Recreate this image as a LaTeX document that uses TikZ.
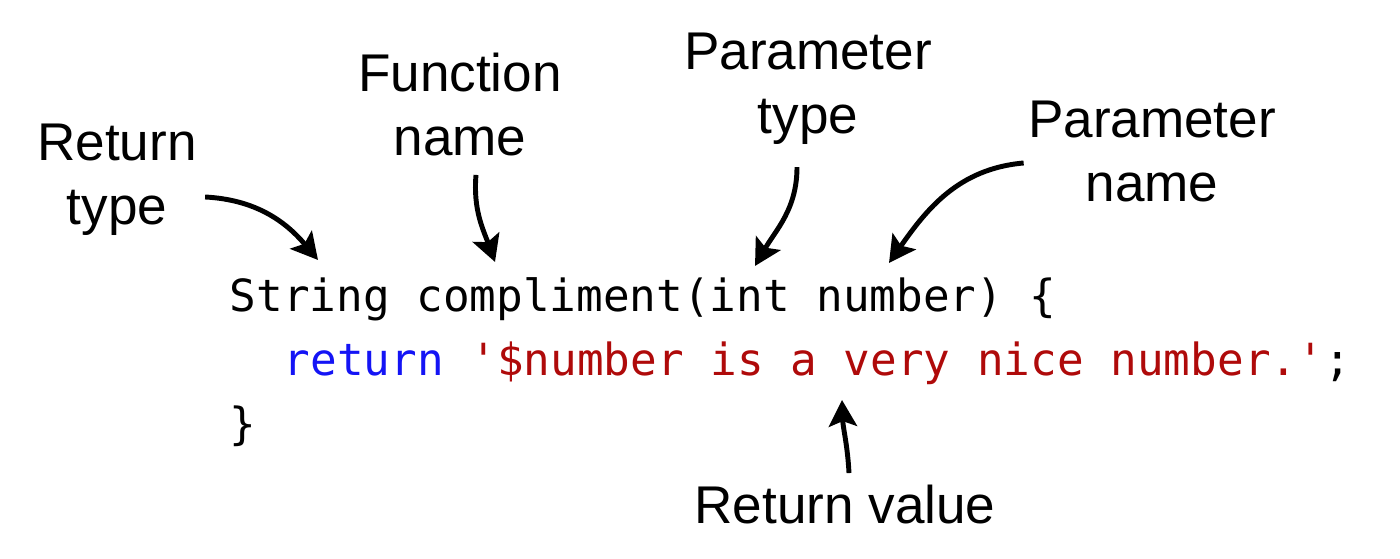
\documentclass[tikz,border=0pt]{standalone}
\usepackage{fontspec}
\setmainfont{Liberation Sans}
\newfontfamily\codefont{DejaVu Sans Mono}
\usetikzlibrary{arrows.meta}
\definecolor{kwblue}{RGB}{20,20,245}
\definecolor{strred}{RGB}{175,10,10}
\tikzset{
  note/.style={align=center, font=\fontsize{15.1}{18.2}\selectfont},
  code/.style={anchor=base west, inner sep=0pt, font=\codefont\fontsize{12.6}{18}\selectfont},
  arr/.style={line width=1.4pt, -{Stealth[length=7.5pt,width=8pt,inset=1.5pt]}}
}
\begin{document}
\begin{tikzpicture}[x=0.01cm,y=-0.01cm]
    \useasboundingbox (0,0) rectangle (1400,559);

    \node[note] (rettype) at (117,180) {Return\\type};
    \node[note] (funcname) at (460,105) {Function\\name};
    \node[note] (partype) at (808,89) {Parameter\\type};
    \node[note] (parname) at (1152,152) {Parameter\\name};
    \node[note] (retval) at (845,505) {Return value};

    \node[code] (sig) at (229,312) {String compliment(int number) \{};
    \node[code] (ret) at (283,376) {\textcolor{kwblue}{return} \textcolor{strred}{\textquotesingle\$number is a very nice number.\textquotesingle};};
    \node[code] (close) at (229,440) {\}};

    \coordinate (rettype-tip) at (318,260);
    \coordinate (funcname-tip) at (495,262);
    \coordinate (partype-tip) at (755,266);
    \coordinate (parname-tip) at (889,263);
    \coordinate (retval-tip) at (842,400);

    \draw[arr] ([xshift=-0.04cm,yshift=-0.17cm]rettype.east) to[out=-3,in=130] (rettype-tip);
    \draw[arr] ([xshift=0.16cm,yshift=-0.06cm]funcname.south) to[out=-95,in=110] (funcname-tip);
    \draw[arr] ([xshift=-0.11cm,yshift=-0.1cm]partype.south) to[out=-90,in=60] (partype-tip);
    \draw[arr] ([xshift=0.08cm,yshift=-0.11cm]parname.west) to[out=185,in=55] (parname-tip);
    \draw[arr] ([xshift=0.04cm]retval.north) to[out=93,in=-88] (retval-tip);
  \end{tikzpicture}
\end{document}
